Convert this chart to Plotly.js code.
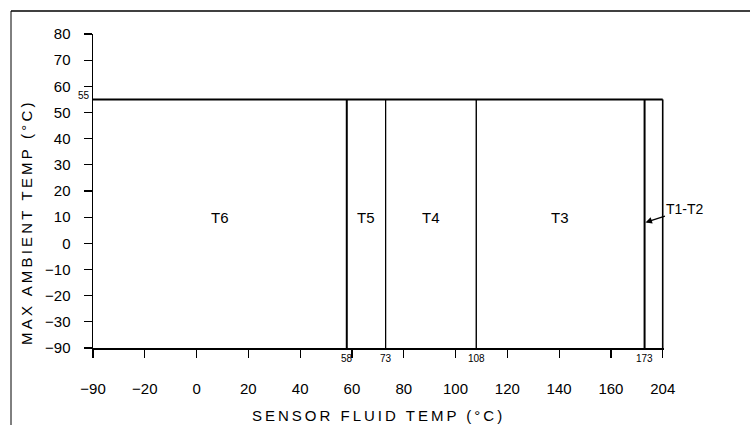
<!DOCTYPE html>
<html>
<head>
<meta charset="utf-8">
<script src="https://cdn.plot.ly/plotly-3.0.1.min.js"></script>
<style>
  html, body { margin: 0; padding: 0; background: #fff; }
  #chart { width: 750px; height: 425px; }
  g.annotation[data-index="0"] text { letter-spacing: 3px; }
  g.annotation[data-index="1"] text { letter-spacing: 3.2px; }
</style>
</head>
<body>
<div id="chart"></div>
<script>
// ---- data ----
var zoneNames = ["T6", "T5", "T4", "T3"];
var zoneBounds = [-90, 58, 73, 108, 173, 204];   // sensor fluid temp boundaries (°C)
var maxAmbient = 55;                              // max ambient temp (°C)
var minAmbient = -90;
var lastZoneName = "T1-T2";
var boundaryLabels = [58, 73, 108, 173];
var xTickValues = [-90, -20, 0, 20, 40, 60, 80, 100, 120, 140, 160, 204];
var yTickValues = [80, 70, 60, 50, 40, 30, 20, 10, 0, -10, -20, -30, -90];
var boundaryWidths = [2, 1.3, 1.4, 2, 1.6];

// ---- broken-axis scales (axis ends are compressed in the drawing) ----
var xReal = [-90, -20, 173, 204], xAxis = [-40, -20, 173, 180];
var yReal = [-90, -30, 80], yAxis = [-40, -30, 80];
function piecewise(v, a, b) {
  for (var i = 0; i < a.length - 1; i++) {
    if (v <= a[i + 1] || i === a.length - 2) {
      return b[i] + (v - a[i]) * (b[i + 1] - b[i]) / (a[i + 1] - a[i]);
    }
  }
}
function mx(v) { return piecewise(v, xReal, xAxis); }
function my(v) { return piecewise(v, yReal, yAxis); }
function lbl(v) { return v < 0 ? "\u2212" + Math.abs(v) : String(v); }

var font = "Liberation Sans, Arial, sans-serif";
var traces = [];
// top line (max ambient)
traces.push({
  x: [mx(zoneBounds[0]), mx(zoneBounds[zoneBounds.length - 1])],
  y: [my(maxAmbient), my(maxAmbient)],
  mode: "lines", line: { color: "#000", width: 2 }, hoverinfo: "skip"
});
// zone boundaries
for (var i = 1; i < zoneBounds.length; i++) {
  traces.push({
    x: [mx(zoneBounds[i]), mx(zoneBounds[i])],
    y: [my(minAmbient), my(maxAmbient)],
    mode: "lines", line: { color: "#000", width: boundaryWidths[i - 1] }, hoverinfo: "skip"
  });
}

var annotations = [
  { text: "SENSOR FLUID TEMP (°C)", xref: "paper", yref: "paper", x: 0.5, xanchor: "center",
    y: 0, yanchor: "middle", yshift: -67,
    showarrow: false, font: { family: font, size: 15, color: "#000" } },
  { text: "MAX AMBIENT TEMP (°C)", xref: "paper", yref: "y", x: 0, xanchor: "center", xshift: -67,
    y: my(8), yanchor: "middle",
    showarrow: false, textangle: -90, font: { family: font, size: 15, color: "#000" } }
];

for (var k = 0; k < zoneNames.length; k++) {
  var mid = (mx(zoneBounds[k]) + mx(zoneBounds[k + 1])) / 2;
  annotations.push({ text: zoneNames[k], x: mid, y: my(10), xref: "x", yref: "y",
    showarrow: false, font: { family: font, size: 15, color: "#000" } });
}
annotations.push({ text: lastZoneName, x: mx(174.5), y: my(8), xref: "x", yref: "y",
  ax: 40, ay: -13, showarrow: true, arrowhead: 2, arrowsize: 1, arrowwidth: 1.3, arrowcolor: "#000",
  font: { family: font, size: 14, color: "#000" } });
boundaryLabels.forEach(function (v) {
  annotations.push({ text: String(v), x: mx(v), y: 0, xref: "x", yref: "paper", yanchor: "top", yshift: -3,
    showarrow: false, font: { family: font, size: 10, color: "#000" } });
});
annotations.push({ text: String(maxAmbient), x: 0, xref: "paper", xanchor: "right", xshift: -1,
  y: my(maxAmbient), yref: "y", yanchor: "middle", yshift: 4, showarrow: false,
  font: { family: font, size: 10, color: "#000" } });

var layout = {
  width: 750, height: 425,
  margin: { l: 93, r: 86, t: 34, b: 77 },
  paper_bgcolor: "#fff", plot_bgcolor: "#fff",
  showlegend: false,
  xaxis: {
    range: [-40, 180.5], showgrid: false, zeroline: false,
    showline: true, linecolor: "#000", linewidth: 2,
    ticks: "outside", ticklen: 8, tickwidth: 1.2, tickcolor: "#000",
    tickmode: "array", tickvals: xTickValues.map(mx), ticktext: xTickValues.map(lbl),
    ticklabelstandoff: 18,
    tickfont: { family: font, size: 15, color: "#000" }
  },
  yaxis: {
    range: [-40, 80], showgrid: false, zeroline: false,
    showline: true, linecolor: "#000", linewidth: 1.5,
    ticks: "outside", ticklen: 8, tickwidth: 1.2, tickcolor: "#000",
    tickmode: "array", tickvals: yTickValues.map(my), ticktext: yTickValues.map(lbl),
    ticklabelstandoff: 10,
    tickfont: { family: font, size: 15, color: "#000" }
  },
  annotations: annotations,
  shapes: [
    { type: "line", xref: "paper", yref: "paper", x0: -0.1436, x1: 1.16, y0: 1.0733, y1: 1.0733,
      line: { color: "#000", width: 1.5 } },
    { type: "line", xref: "paper", yref: "paper", x0: -0.1436, x1: -0.1436, y0: 1.0733, y1: -0.26,
      line: { color: "#000", width: 1 } }
  ]
};

Plotly.newPlot("chart", traces, layout, { displayModeBar: false, staticPlot: true });
</script>
</body>
</html>
